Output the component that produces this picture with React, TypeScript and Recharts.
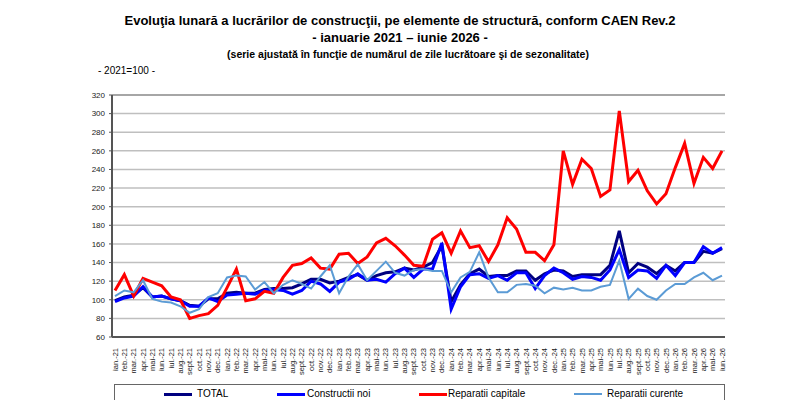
import React from 'react';
import { LineChart, Line, XAxis, YAxis, CartesianGrid, ReferenceLine } from 'recharts';

const categories = [
  'ian.-21','feb.-21','mar.-21','apr.-21','mai-21','iun.-21','iul.-21','aug.-21','sept.-21','oct.-21','nov.-21','dec.-21',
  'ian.-22','feb.-22','mar.-22','apr.-22','mai-22','iun.-22','iul.-22','aug.-22','sept.-22','oct.-22','nov.-22','dec.-22',
  'ian.-23','feb.-23','mar.-23','apr.-23','mai-23','iun.-23','iul.-23','aug.-23','sept.-23','oct.-23','nov.-23','dec.-23',
  'ian.-24','feb.-24','mar.-24','apr.-24','mai-24','iun.-24','iul.-24','aug.-24','sept.-24','oct.-24','nov.-24','dec.-24',
  'ian.-25','feb.-25','mar.-25','apr.-25','mai-25','iun.-25','iul.-25','aug.-25','sept.-25','oct.-25','nov.-25','dec.-25',
  'ian.-26','feb.-26','mar.-26','apr.-26','mai-26','iun.-26',
];

const total = [
  99,103,105,113,103,104,101,99,94,93,101,101,107,108,107,107,111,112,112,113,117,122,122,118,120,124,127,121,126,129,130,
  134,132,135,140,158,98,116,128,133,125,126,126,131,131,121,128,132,131,125,127,127,127,137,174,129,139,135,128,137,131,140,140,152,150,155,
];
const constructiiNoi = [
  98,102,104,114,103,104,101,99,93,93,102,98,105,106,107,106,110,111,110,106,110,120,117,109,119,122,128,121,122,119,128,
  134,124,133,133,161,90,114,127,128,123,126,121,129,129,112,126,134,129,122,125,124,121,132,154,124,132,131,123,137,126,140,140,157,150,156,
];
const reparatiiCapitale = [
  110,127,104,123,119,115,103,100,80,83,85,94,113,133,99,101,109,107,124,137,139,145,134,133,149,150,139,146,161,166,158,
  148,137,136,165,172,150,174,156,158,141,159,188,176,151,151,142,159,260,224,251,241,211,218,303,227,239,217,203,214,242,268,225,253,241,260,
];
const reparatiiCurente = [
  104,110,108,121,101,98,97,93,86,90,103,107,124,126,125,111,119,107,116,121,117,112,125,137,107,125,138,121,131,141,129,
  126,132,133,131,131,108,124,130,151,124,108,108,116,117,115,107,113,111,113,110,110,114,116,142,101,112,104,100,110,117,117,124,129,121,126,
];

const yTicks = [60, 80, 100, 120, 140, 160, 180, 200, 220, 240, 260, 280, 300, 320];

const series = [
  { key: 'total', name: 'TOTAL', color: '#000080', width: 3 },
  { key: 'noi', name: 'Constructii noi', color: '#0000FF', width: 3 },
  { key: 'capitale', name: 'Reparatii capitale', color: '#FF0000', width: 3 },
  { key: 'curente', name: 'Reparatii curente', color: '#5B9BD5', width: 2 },
];

const data = categories.map((m, i) => ({
  month: m,
  total: total[i],
  noi: constructiiNoi[i],
  capitale: reparatiiCapitale[i],
  curente: reparatiiCurente[i],
}));

const FONT = '"Liberation Sans", Arial, sans-serif';

const XTick = (props: any) => {
  const { x, y, payload } = props;
  return (
    <text
      x={x}
      y={y + 3}
      transform={`rotate(-90, ${x}, ${y + 3})`}
      textAnchor="end"
      dy="0.35em"
      fontSize={7.5}
      fill="#222"
      fontFamily={FONT}
    >
      {payload.value}
    </text>
  );
};

const legendPos = [
  { line: 164, text: 197 },
  { line: 277, text: 307 },
  { line: 419, text: 448 },
  { line: 574, text: 607 },
];

const titleLine = (top: number, size: number): React.CSSProperties => ({
  position: 'absolute',
  top,
  left: 0,
  width: 800,
  textAlign: 'center',
  fontWeight: 'bold',
  fontSize: size,
  lineHeight: '16px',
  color: '#000',
  whiteSpace: 'nowrap',
});

export default function App() {
  return (
    <div style={{ position: 'absolute', left: 0, top: 0, width: 800, height: 400, background: '#fff', fontFamily: FONT, overflow: 'hidden' }}>
      <div style={titleLine(12.5, 13)}>Evoluţia lunară a lucrărilor de construcţii, pe elemente de structură, conform CAEN Rev.2</div>
      <div style={titleLine(29.5, 13)}>- ianuarie 2021 – iunie 2026 -</div>
      <div style={{ ...titleLine(45.5, 10.5), left: 8 }}>(serie ajustată în funcţie de numărul de zile lucrătoare şi de sezonalitate)</div>
      <div style={{ position: 'absolute', top: 63, left: 98, fontSize: 10, lineHeight: '16px', color: '#000' }}>- 2021=100 -</div>
      <div style={{ position: 'absolute', left: 0, top: 0 }}>
        <LineChart width={800} height={400} data={data} margin={{ top: 95, right: 75, bottom: 0, left: 72 }}>
          <CartesianGrid vertical={false} stroke="#BFBFBF" strokeWidth={1.5} />
          <XAxis
            dataKey="month"
            interval={0}
            height={63}
            padding={{ left: 3, right: 3 }}
            tick={<XTick />}
            tickLine={false}
            axisLine={{ stroke: '#555', strokeWidth: 2 }}
          />
          <YAxis
            domain={[60, 320]}
            ticks={yTicks}
            width={40}
            tickSize={3}
            tickMargin={4}
            tickLine={{ stroke: '#555' }}
            axisLine={{ stroke: '#555', strokeWidth: 2 }}
            tick={{ fontSize: 8, fill: '#222', fontFamily: FONT }}
            interval={0}
          />
          <YAxis yAxisId="right" orientation="right" width={0} tick={false} tickLine={false} axisLine={{ stroke: '#999', strokeWidth: 1.5 }} />
          <ReferenceLine y={320} stroke="#999" strokeWidth={1.5} />
          {series.map((s) => (
            <Line
              key={s.key}
              type="linear"
              dataKey={s.key}
              name={s.name}
              stroke={s.color}
              strokeWidth={s.width}
              dot={false}
              activeDot={false}
              isAnimationActive={false}
            />
          ))}
        </LineChart>
      </div>
      <div style={{ position: 'absolute', left: 114, top: 384, width: 611, height: 30, border: '1px solid #666', boxSizing: 'border-box' }} />
      {series.map((s, i) => (
        <React.Fragment key={s.key}>
          <div style={{ position: 'absolute', left: legendPos[i].line, top: 394 - s.width / 2, width: 28, height: s.width, background: s.color }} />
          <div style={{ position: 'absolute', left: legendPos[i].text, top: 388, fontSize: 10, lineHeight: '12px', color: '#000' }}>{s.name}</div>
        </React.Fragment>
      ))}
    </div>
  );
}
